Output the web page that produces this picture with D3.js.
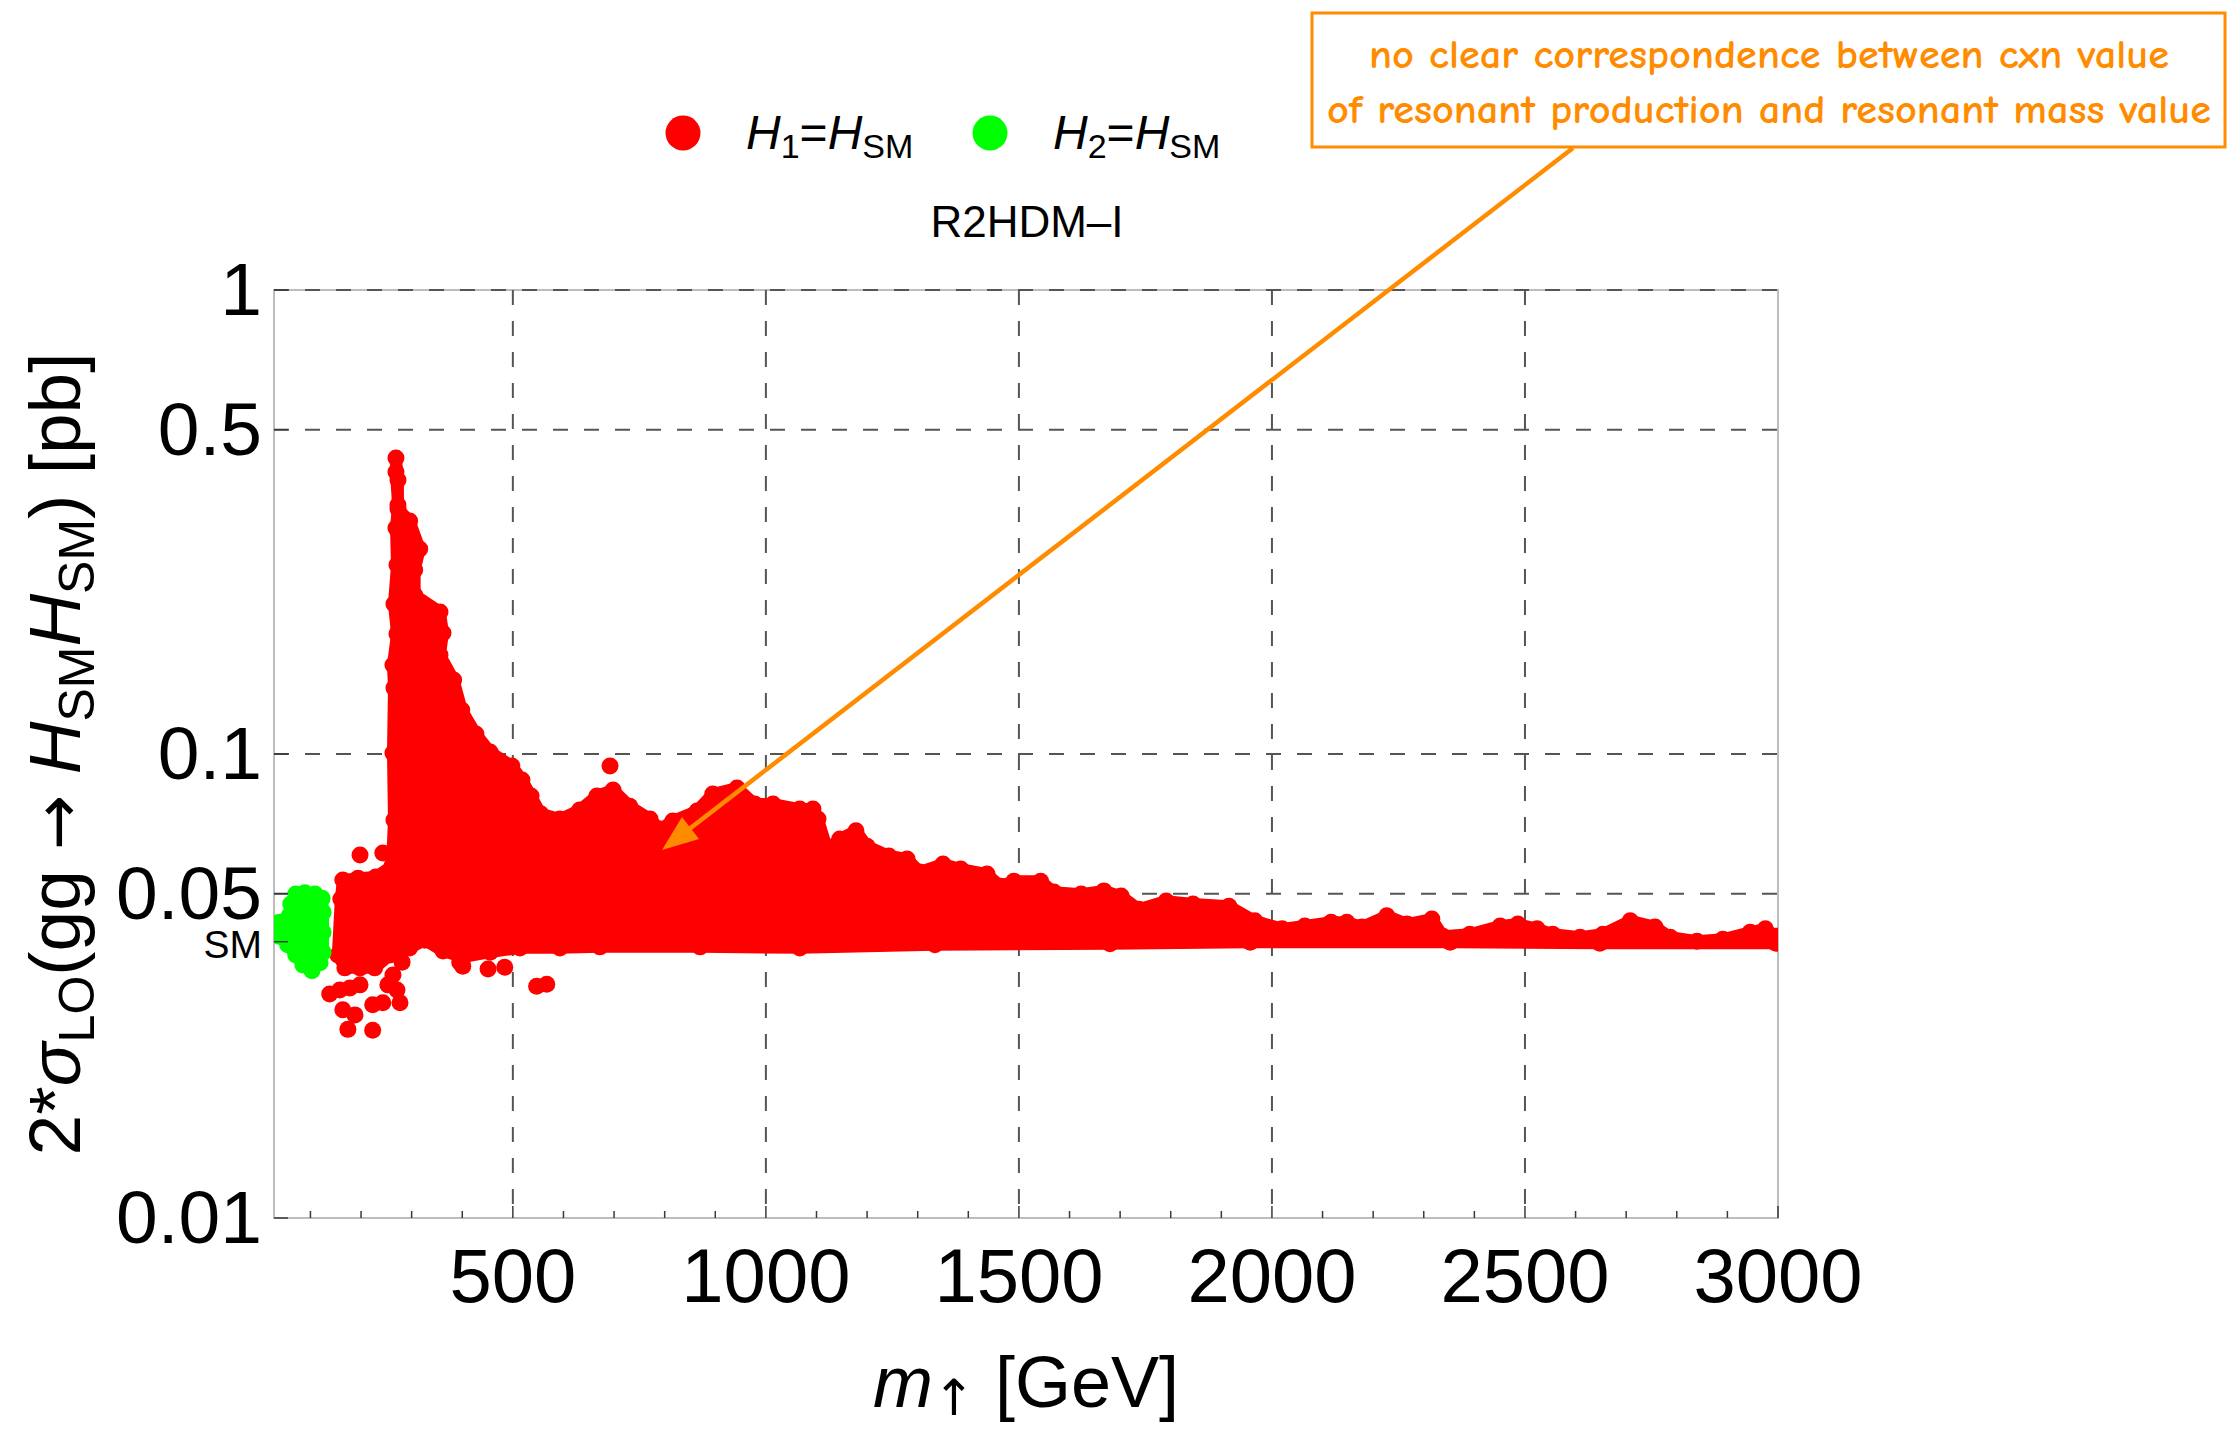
<!DOCTYPE html>
<html>
<head>
<meta charset="utf-8">
<script src="https://cdn.jsdelivr.net/npm/d3@7"></script>
<style>
  html, body { margin: 0; padding: 0; background: #ffffff; }
  svg { display: block; }
</style>
</head>
<body>
<svg id="chart" width="2240" height="1429"></svg>
<script>
// ---------------------------------------------------------------------------
// Scan points: resonant mass m (GeV) vs 2*sigma_LO(gg -> H_SM H_SM) (pb).
// The scan is so dense that its interior is solid; it is described by the
// centres of the points on its outline plus the isolated points around it.
// ---------------------------------------------------------------------------

// H1 = H_SM : outline of the dense region (upper edge left->right, then lower edge right->left)
const redEdgeMass = [
  160, 164, 194, 229, 261, 265, 263, 265, 263, 271, 265, 271, 269, 273, 269, 269,
  273, 273, 296, 316, 306, 306, 356, 362, 356, 383, 399, 427, 455, 498, 518, 536,
  555, 593, 632, 666, 698, 731, 771, 791, 816, 864, 895, 943, 978, 1014, 1067, 1093,
  1103, 1121, 1146, 1178, 1200, 1243, 1279, 1304, 1350, 1385, 1437, 1464, 1490, 1543,
  1569, 1623, 1668, 1702, 1737, 1791, 1844, 1915, 1966, 2020, 2065, 2117, 2148, 2178,
  2227, 2267, 2316, 2338, 2391, 2451, 2486, 2524, 2555, 2609, 2654, 2708, 2757, 2787,
  2840, 2891, 2945, 2975, 2996,
  2996, 2648, 2352, 1957, 1680, 1334, 1067, 870, 672, 593, 514, 455, 401, 362, 326,
  296, 277, 257, 227, 198, 168, 154
];
const redEdgeXsec = [
  0.0487, 0.0535, 0.0540, 0.0543, 0.0574, 0.0721, 0.1005, 0.1387, 0.1555, 0.1814,
  0.2105, 0.2555, 0.3070, 0.3440, 0.4053, 0.4345, 0.3896, 0.3373, 0.3178, 0.2765,
  0.2492, 0.2202, 0.2023, 0.1823, 0.1634, 0.1444, 0.1244, 0.1104, 0.1010, 0.0942,
  0.0879, 0.0812, 0.0743, 0.0724, 0.0757, 0.0812, 0.0836, 0.0772, 0.0724, 0.0689,
  0.0717, 0.0754, 0.0820, 0.0845, 0.0780, 0.0780, 0.0761, 0.0761, 0.0724, 0.0624,
  0.0656, 0.0683, 0.0633, 0.0603, 0.0594, 0.0557, 0.0579, 0.0565, 0.0551, 0.0519,
  0.0532, 0.0532, 0.0504, 0.0499, 0.0507, 0.0494, 0.0463, 0.0482, 0.0475, 0.0470,
  0.0437, 0.0420, 0.0426, 0.0434, 0.0434, 0.0424, 0.0448, 0.0430, 0.0441, 0.0405,
  0.0409, 0.0426, 0.0430, 0.0420, 0.0409, 0.0403, 0.0409, 0.0437, 0.0424, 0.0403,
  0.0395, 0.0399, 0.0413, 0.0420, 0.0405,
  0.0391, 0.0391, 0.0393, 0.0393, 0.0390, 0.0388, 0.0382, 0.0384, 0.0384, 0.0382,
  0.0382, 0.0374, 0.0365, 0.0376, 0.0397, 0.0382, 0.0374, 0.0369, 0.0346, 0.0346,
  0.0346, 0.0369
];

// H1 = H_SM : isolated points off the dense region
const redLooseMass = [198, 243, 692, 138, 158, 164, 174, 178, 188, 198, 223, 223,
  243, 263, 271, 277, 253, 281, 395, 401, 451, 484, 547, 567];
const redLooseXsec = [0.0606, 0.0612, 0.0942, 0.0304, 0.0310, 0.0281, 0.0255, 0.0313,
  0.0274, 0.0318, 0.0288, 0.0254, 0.0291, 0.0334, 0.0310, 0.0291, 0.0318, 0.0356,
  0.0356, 0.0349, 0.0344, 0.0347, 0.0316, 0.0319];

// H2 = H_SM : outline of the light-scalar region
const greenEdgeMass = [71, 89, 109, 123, 125, 125, 125, 119, 103, 85, 71, 55, 38, 38, 59, 61];
const greenEdgeXsec = [0.0499, 0.0502, 0.0499, 0.0489, 0.0456, 0.0413, 0.0374, 0.0355,
  0.0341, 0.0351, 0.0369, 0.0388, 0.0405, 0.0434, 0.0450, 0.0475];

// Axes
const xMajorTicks = [500, 1000, 1500, 2000, 2500, 3000];
const xMinorTicks = [100, 200, 300, 400, 600, 700, 800, 900, 1100, 1200, 1300, 1400,
  1600, 1700, 1800, 1900, 2100, 2200, 2300, 2400, 2600, 2700, 2800, 2900];
const xGridValues = [500, 1000, 1500, 2000, 2500];
const yTickValues = [1, 0.5, 0.1, 0.05, 0.01];
const yTickLabels = ["1", "0.5", "0.1", "0.05", "0.01"];
const yGridValues = [1, 0.5, 0.1, 0.05];
const smXsec = 0.0394;            // SM reference value, marked on the axis

const seriesNames = ["H1", "H2"];
const seriesColors = ["#ff0000", "#00ff00"];

// ---------------------------------------------------------------------------
const svg = d3.select("#chart");
const FONT = "'Liberation Sans', Arial, Helvetica, sans-serif";
const SYM = "'DejaVu Sans', sans-serif";
const plot = { left: 274, right: 1778, top: 290, bottom: 1218 };
const R = 8.5;   // marker radius

const x = d3.scaleLinear().domain([28, 3000]).range([plot.left, plot.right]);
const y = d3.scaleLog().domain([0.01, 1]).range([plot.bottom, plot.top]);

svg.append("rect").attr("width", 2240).attr("height", 1429).attr("fill", "#fff");

svg.append("defs").append("clipPath").attr("id", "plotClip")
  .append("rect")
  .attr("x", plot.left).attr("y", plot.top)
  .attr("width", plot.right - plot.left).attr("height", plot.bottom - plot.top);

// frame
svg.append("rect")
  .attr("x", plot.left).attr("y", plot.top)
  .attr("width", plot.right - plot.left).attr("height", plot.bottom - plot.top)
  .attr("fill", "none").attr("stroke", "#bdbdbd").attr("stroke-width", 2);

// grid lines (behind the data)
const grid = svg.append("g").attr("stroke", "#555").attr("stroke-width", 2)
  .attr("stroke-dasharray", "15,16");
grid.selectAll("line.v").data(xGridValues).join("line")
  .attr("x1", d => x(d)).attr("x2", d => x(d))
  .attr("y1", plot.top).attr("y2", plot.bottom);
grid.selectAll("line.h").data(yGridValues).join("line")
  .attr("x1", plot.left).attr("x2", plot.right)
  .attr("y1", d => y(d)).attr("y2", d => y(d));

// data
const dataG = svg.append("g").attr("clip-path", "url(#plotClip)");
const line = d3.line().x(d => x(d[0])).y(d => y(d[1])).curve(d3.curveLinearClosed);

function drawCloud(massArr, xsecArr, color) {
  const pts = massArr.map((m, i) => [m, xsecArr[i]]);
  // solid interior of the dense region
  dataG.append("path")
    .datum(pts)
    .attr("d", line)
    .attr("fill", color)
    .attr("stroke", color)
    .attr("stroke-width", 1.4 * R)
    .attr("stroke-linejoin", "round");
  // the outline points themselves
  dataG.append("g").selectAll("circle").data(pts).join("circle")
    .attr("cx", d => x(d[0])).attr("cy", d => y(d[1])).attr("r", R)
    .attr("fill", color);
}

drawCloud(redEdgeMass, redEdgeXsec, seriesColors[0]);
dataG.append("g").selectAll("circle")
  .data(redLooseMass.map((m, i) => [m, redLooseXsec[i]]))
  .join("circle")
  .attr("cx", d => x(d[0])).attr("cy", d => y(d[1])).attr("r", R)
  .attr("fill", seriesColors[0]);
drawCloud(greenEdgeMass, greenEdgeXsec, seriesColors[1]);

// ticks
const ticks = svg.append("g").attr("stroke", "#3a3a3a").attr("stroke-width", 1.5);
ticks.selectAll("line.maj").data(xMajorTicks).join("line")
  .attr("x1", d => x(d)).attr("x2", d => x(d))
  .attr("y1", plot.bottom).attr("y2", plot.bottom - 12);
ticks.selectAll("line.min").data(xMinorTicks).join("line")
  .attr("x1", d => x(d)).attr("x2", d => x(d))
  .attr("y1", plot.bottom).attr("y2", plot.bottom - 7);
ticks.selectAll("line.y").data(yTickValues.concat([smXsec])).join("line")
  .attr("x1", plot.left).attr("x2", plot.left + 14)
  .attr("y1", d => y(d)).attr("y2", d => y(d));

// tick labels
svg.append("g").selectAll("text").data(xMajorTicks).join("text")
  .attr("x", d => x(d)).attr("y", 1302)
  .attr("text-anchor", "middle")
  .attr("font-family", FONT).attr("font-size", 76).attr("fill", "#000")
  .text(d => d);
svg.append("g").selectAll("text").data(yTickValues).join("text")
  .attr("x", 262).attr("y", d => y(d) + 25)
  .attr("text-anchor", "end")
  .attr("font-family", FONT).attr("font-size", 75).attr("fill", "#000")
  .text((d, i) => yTickLabels[i]);
svg.append("text")
  .attr("x", 262).attr("y", y(smXsec) + 16)
  .attr("text-anchor", "end")
  .attr("font-family", FONT).attr("font-size", 39).attr("fill", "#000")
  .text("SM");

// axis titles
const xt = svg.append("text")
  .attr("x", (plot.left + plot.right) / 2).attr("y", 1407)
  .attr("text-anchor", "middle")
  .attr("font-family", FONT).attr("font-size", 72).attr("fill", "#000");
xt.append("tspan").attr("font-style", "italic").text("m");
xt.append("tspan").attr("font-family", SYM).attr("font-size", 50).attr("dy", 8).text("\u2191");
xt.append("tspan").attr("dy", -8).text(" [GeV]");

const yt = svg.append("text")
  .attr("transform", `translate(80, ${(plot.top + plot.bottom) / 2}) rotate(-90)`)
  .attr("text-anchor", "middle")
  .attr("font-family", FONT).attr("font-size", 73).attr("fill", "#000");
yt.append("tspan").text("2*");
yt.append("tspan").attr("font-style", "italic").text("\u03c3");
yt.append("tspan").attr("font-size", 50).attr("dy", 14).text("LO");
yt.append("tspan").attr("dy", -14).text("(gg ");
yt.append("tspan").attr("font-family", SYM).attr("font-size", 66).text("\u2192");
yt.append("tspan").text(" ");
yt.append("tspan").attr("font-style", "italic").text("H");
yt.append("tspan").attr("font-size", 50).attr("dy", 14).text("SM");
yt.append("tspan").attr("font-style", "italic").attr("dy", -14).text("H");
yt.append("tspan").attr("font-size", 50).attr("dy", 14).text("SM");
yt.append("tspan").attr("dy", -14).text(") [pb]");

// legend
const legendX = [683, 990];
seriesNames.forEach((name, i) => {
  svg.append("circle").attr("cx", legendX[i]).attr("cy", 133).attr("r", 17.5)
    .attr("fill", seriesColors[i]);
  const t = svg.append("text")
    .attr("x", legendX[i] + 63).attr("y", 149)
    .attr("font-family", FONT).attr("font-size", 48).attr("fill", "#000");
  t.append("tspan").attr("font-style", "italic").text("H");
  t.append("tspan").attr("font-size", 34).attr("dy", 9).text(name.slice(1));
  t.append("tspan").attr("dy", -9).text("=");
  t.append("tspan").attr("font-style", "italic").text("H");
  t.append("tspan").attr("font-size", 34).attr("dy", 9).text("SM");
});

svg.append("text")
  .attr("x", 1027).attr("y", 237)
  .attr("text-anchor", "middle")
  .attr("font-family", FONT).attr("font-size", 44).attr("fill", "#000")
  .text("R2HDM\u2013I");

// annotation
const ORANGE = "#ff8c00";
svg.append("rect")
  .attr("x", 1312).attr("y", 13).attr("width", 913).attr("height", 134)
  .attr("fill", "none").attr("stroke", ORANGE).attr("stroke-width", 3);
const noteFont = "'Comic Sans MS', 'Comic Neue', Lato, 'Open Sans', sans-serif";
[["no clear correspondence between cxn value", 68, 800],
 ["of resonant production and resonant mass value", 123, 884]].forEach(([s, yy, w]) => {
  svg.append("text")
    .attr("x", 1769).attr("y", yy)
    .attr("text-anchor", "middle")
    .attr("font-family", noteFont).attr("font-size", 41).attr("font-weight", 600)
    .attr("fill", ORANGE)
    .attr("textLength", w).attr("lengthAdjust", "spacingAndGlyphs")
    .text(s);
});

// arrow from the note into the cloud
const a0 = [1573, 148], a1 = [662, 850];
const ang = Math.atan2(a1[1] - a0[1], a1[0] - a0[0]);
const headLen = 36, headHalf = 14;
const ux = Math.cos(ang), uy = Math.sin(ang);
const base = [a1[0] - ux * headLen, a1[1] - uy * headLen];
svg.append("line")
  .attr("x1", a0[0]).attr("y1", a0[1])
  .attr("x2", base[0] + ux * 4).attr("y2", base[1] + uy * 4)
  .attr("stroke", ORANGE).attr("stroke-width", 4.5);
svg.append("path")
  .attr("d", `M${a1[0]},${a1[1]} L${base[0] - uy * headHalf},${base[1] + ux * headHalf} L${base[0] + uy * headHalf},${base[1] - ux * headHalf} Z`)
  .attr("fill", ORANGE);
</script>
</body>
</html>
